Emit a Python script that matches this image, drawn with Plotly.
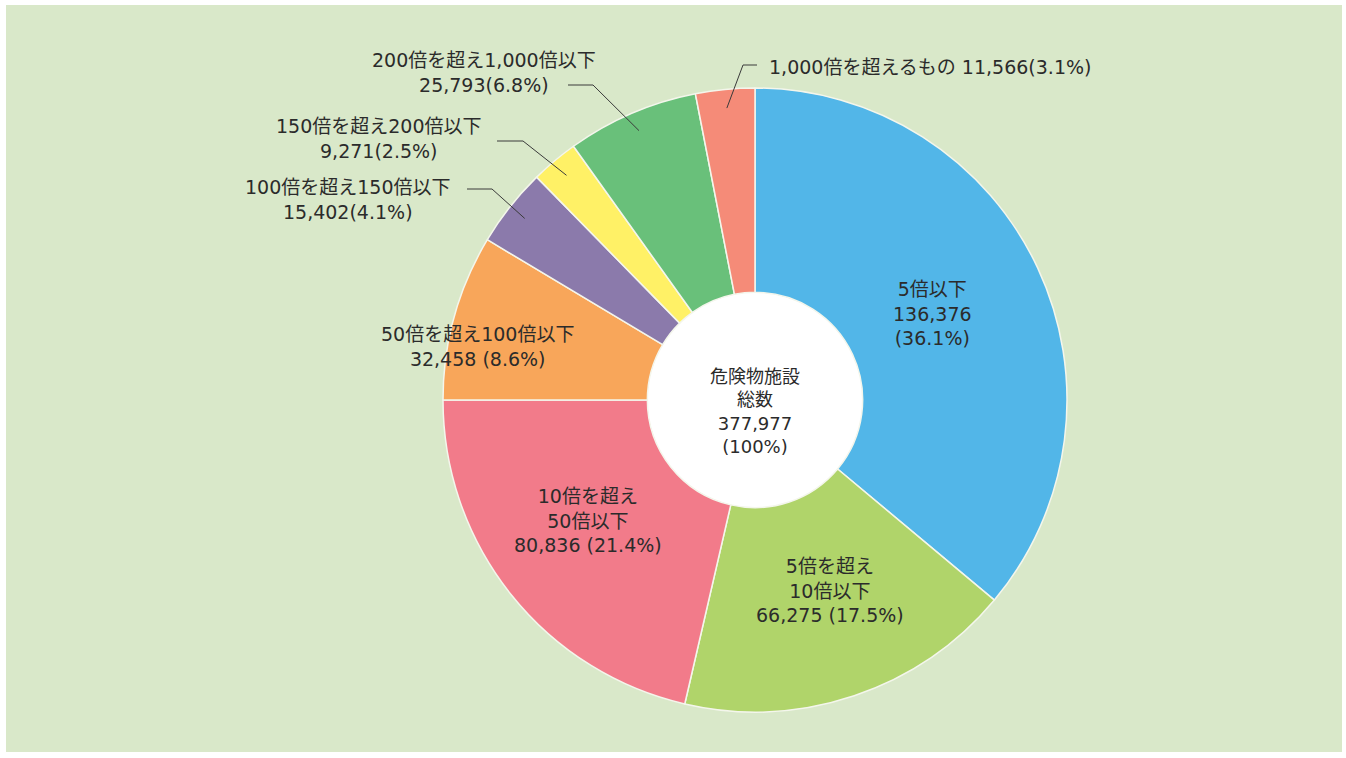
import math
import plotly.graph_objects as go

# ---- data ----
categories = [
    "5倍以下",
    "5倍を超え10倍以下",
    "10倍を超え50倍以下",
    "50倍を超え100倍以下",
    "100倍を超え150倍以下",
    "150倍を超え200倍以下",
    "200倍を超え1,000倍以下",
    "1,000倍を超えるもの",
]
values = [136376, 66275, 80836, 32458, 15402, 9271, 25793, 11566]
percents = ["36.1%", "17.5%", "21.4%", "8.6%", "4.1%", "2.5%", "6.8%", "3.1%"]
total_value = 377977
center_lines = ["危険物施設", "総数", "377,977", "(100%)"]
colors = ["#52b6e8", "#b0d46a", "#f27b8a", "#f8a65a", "#8b7aab", "#fff166", "#69c07a", "#f58b78"]

W, H = 1346, 758
CX, CY, R = 755, 400, 312
HOLE = 0.345
TEXT_COLOR = "#2b2b2b"
FONT = "DejaVu Sans, Noto Sans CJK JP"


def px(x, y):
    return x / W, 1 - y / H


def fmt(v):
    return f"{v:,}"


fig = go.Figure()
fig.add_trace(go.Pie(
    values=values,
    labels=categories,
    sort=False,
    direction="clockwise",
    rotation=0,
    hole=HOLE,
    marker=dict(colors=colors, line=dict(color="#f4f6ec", width=1.5)),
    textinfo="none",
    hoverinfo="none",
    showlegend=False,
    domain=dict(x=[(CX - R) / W, (CX + R) / W], y=[1 - (CY + R) / H, 1 - (CY - R) / H]),
))

annotations = []


def add_text(x, y, text, align="center", xanchor="center", size=19):
    ax, ay = px(x, y)
    annotations.append(dict(
        x=ax, y=ay, xref="paper", yref="paper", text=text, showarrow=False,
        align=align, xanchor=xanchor, yanchor="middle",
        font=dict(family=FONT, size=size, color=TEXT_COLOR),
    ))


# inside labels
add_text(932, 313, f"5倍以下<br>{fmt(values[0])}<br>({percents[0]})")
add_text(830, 590, f"5倍を超え<br>10倍以下<br>{fmt(values[1])} ({percents[1]})")
add_text(588, 520, f"10倍を超え<br>50倍以下<br>{fmt(values[2])} ({percents[2]})")
add_text(477, 346, f"50倍を超え100倍以下<br>{fmt(values[3])} ({percents[3]})")

# outside labels
add_text(348, 200, f"100倍を超え150倍以下<br>{fmt(values[4])}({percents[4]})")
add_text(379, 139, f"150倍を超え200倍以下<br>{fmt(values[5])}({percents[5]})")
add_text(484, 73, f"200倍を超え1,000倍以下<br>{fmt(values[6])}({percents[6]})")
add_text(767, 67, f"{categories[7]} {fmt(values[7])}({percents[7]})", align="left", xanchor="left")

# center text
add_text(755, 411, "<br>".join(center_lines), size=18)

# background panel and white hole
hole_r = HOLE * R
shapes = [
    dict(type="rect", xref="paper", yref="paper", x0=6 / W, x1=1342 / W,
         y0=1 - 752 / H, y1=1 - 5 / H, fillcolor="#d9e8c9", line=dict(width=0), layer="below"),
    dict(type="circle", xref="paper", yref="paper",
         x0=(CX - hole_r) / W, x1=(CX + hole_r) / W,
         y0=1 - (CY + hole_r) / H, y1=1 - (CY - hole_r) / H,
         fillcolor="white", line=dict(width=0), layer="below"),
]

# leader lines: inner end from slice mid-angle
cum = 0
mid_angles = []
for v in values:
    mid_angles.append((cum + v / 2) / total_value * 2 * math.pi)
    cum += v

leaders = {
    4: [(467, 189), (492, 189)],
    5: [(497, 141), (523, 141)],
    6: [(568, 85), (593, 85)],
    7: [(757, 65), (743, 65)],
}
for idx, pts in leaders.items():
    a = mid_angles[idx]
    r = 0.94 * R
    ex, ey = CX + r * math.sin(a), CY - r * math.cos(a)
    allpts = pts + [(ex, ey)]
    path = "M " + " L ".join(f"{px(x, y)[0]},{px(x, y)[1]}" for x, y in allpts)
    shapes.append(dict(type="path", xref="paper", yref="paper", path=path,
                       line=dict(color="#3a3a3a", width=1)))

fig.update_layout(
    width=W, height=H,
    margin=dict(l=0, r=0, t=0, b=0),
    paper_bgcolor="white",
    plot_bgcolor="white",
    annotations=annotations,
    shapes=shapes,
)

fig.write_html("out.html", config={"displayModeBar": False},
               post_script="document.body.style.margin='0';")
